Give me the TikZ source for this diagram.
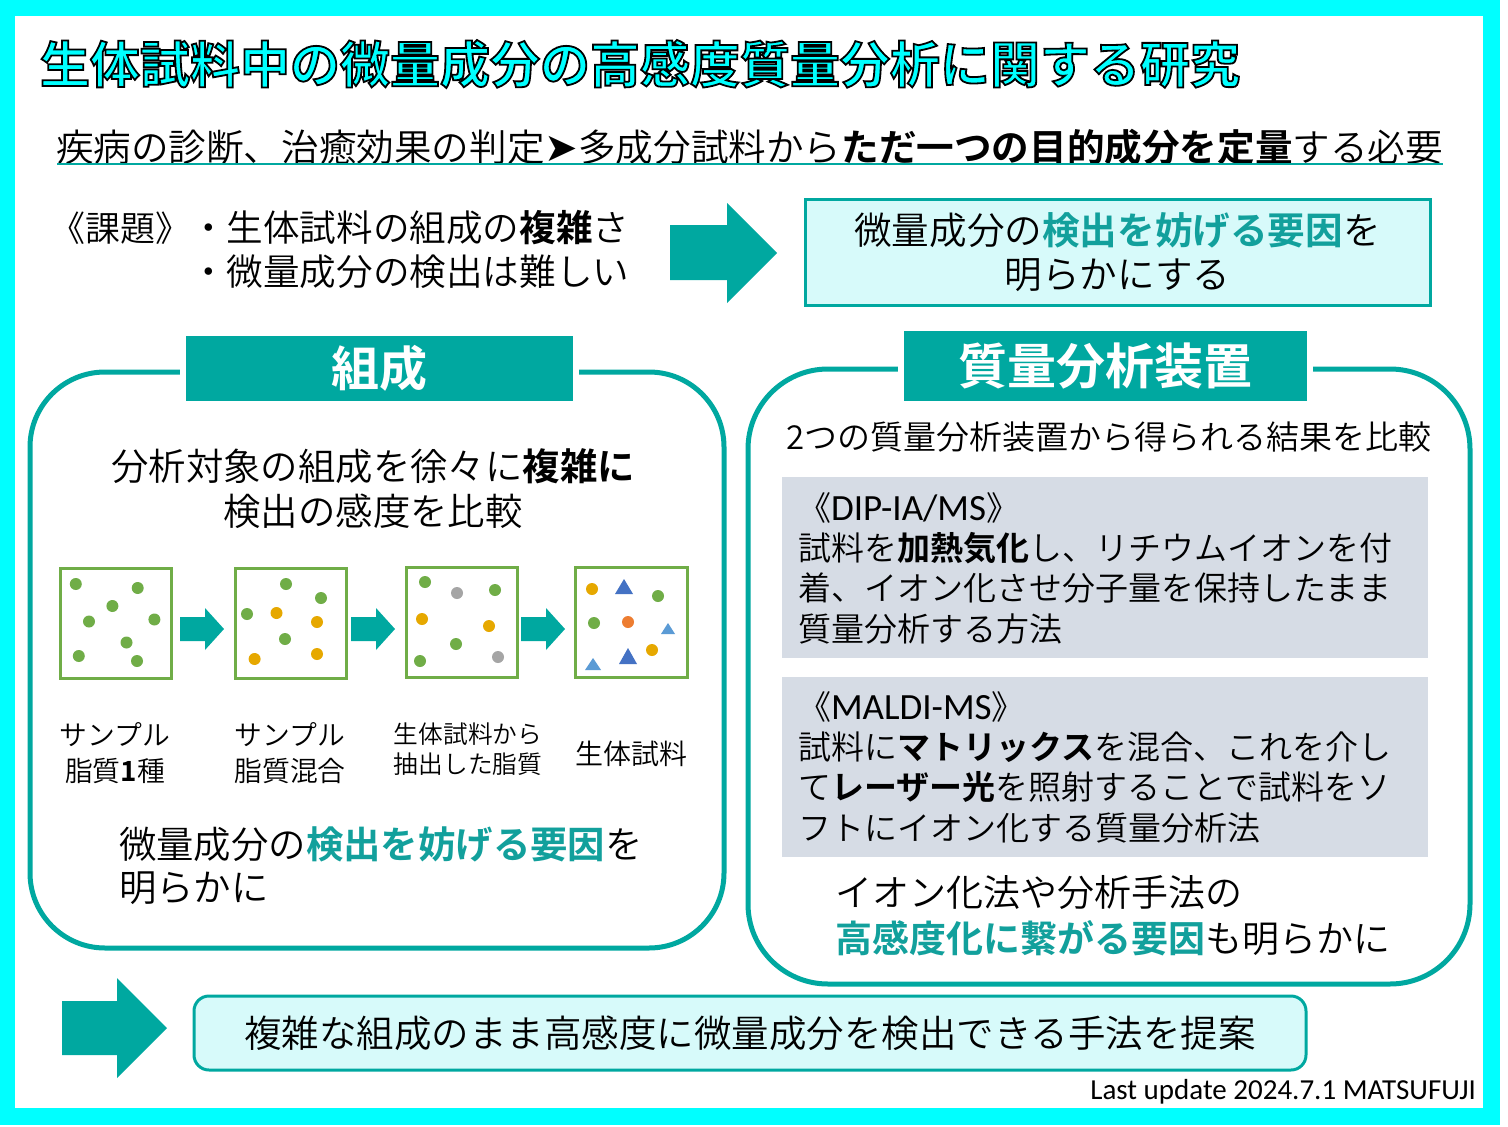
\documentclass[tikz,border=0pt]{standalone}
\usepackage{fontspec}
\setmainfont{Noto Sans CJK JP}[UprightFont={* DemiLight}, BoldFont={* Bold}]
\newfontfamily\dejavu{DejaVu Sans}
\newfontfamily\carlito{Carlito}
\definecolor{tealc}{RGB}{0,168,160}
\definecolor{tealt}{RGB}{18,160,156}
\definecolor{cyanf}{RGB}{0,255,255}
\definecolor{lcyan}{RGB}{215,250,250}
\definecolor{grayb}{RGB}{214,220,229}
\definecolor{dgreen}{RGB}{112,173,71}
\definecolor{dgold}{RGB}{230,168,0}
\definecolor{dgray}{RGB}{165,165,165}
\definecolor{dorange}{RGB}{237,125,49}
\definecolor{dblue}{RGB}{68,114,196}
\definecolor{lblue}{RGB}{91,155,213}
\newcommand\fsz[2]{\fontsize{#1}{#2}\selectfont}
\newcommand\hl[1]{\textbf{\color{tealt}#1}}
\newcommand\strokeon{\special{pdf:literal direct 2 Tr 1.8 w 0 0 0 RG}}
\newcommand\strokeoff{\special{pdf:literal direct 0 Tr}}
\begin{document}
\begin{tikzpicture}[x=1pt,y=-1pt,
  txt/.style={inner sep=0pt, outer sep=0pt},
  titlef/.style={txt, font=\fsz{50}{56}\bfseries, anchor=west},
  hdr/.style={fill=tealc, preaction={draw=white, line width=12pt}, text=white, inner sep=0pt},
  panel/.style={draw=tealc, line width=5pt},
  graybox/.style={fill=grayb},
  dotbox/.style={draw=dgreen, line width=3pt},
  sarrow/.pic={\fill[tealc] (0,-12) -- (25,-12) -- (25,-21) -- (44,0) -- (25,21) -- (25,12) -- (0,12) -- cycle;}
]
\useasboundingbox (0,0) rectangle (1508,1127);
% frame
\fill[white] (0,0) rectangle (1508,1127);
\fill[cyanf] (0,0) rectangle (1500,1125);
\fill[white] (15,16) rectangle (1483,1108);

% title with outline (fill + stroke text render mode)
\node[titlef, text=cyanf] (title) at (40,64) {\strokeon 生体試料中の微量成分の高感度質量分析に関する研究\strokeoff};

% subtitle
\node[txt, anchor=west, font=\fsz{37.6}{44}] (sub) at (56,147) {疾病の診断、治癒効果の判定{\dejavu\fsz{40}{44}➤}多成分試料から\textbf{ただ一つの目的成分を定量}する必要};
\coordinate (ulA) at (57,164);
\coordinate (ulB) at (1443,164);
\draw[tealc, line width=2pt] (ulA) -- (ulB);

% issues
\node[txt, anchor=west, font=\fsz{35}{44}] (kadai) at (50,228) {《課題》};
\node[txt, anchor=west, font=\fsz{36.6}{44}] (b1) at (190,228) {・生体試料の組成の\textbf{複雑}さ};
\node[txt, anchor=west, font=\fsz{36.6}{44}] (b2) at (190,272) {・微量成分の検出は難しい};

% big arrow 1
\fill[tealc] (670,225) -- (727,225) -- (727,203) -- (777,253) -- (727,303) -- (727,280) -- (670,280) -- cycle;

% goal box
\node[draw=tealc, line width=3pt, fill=lcyan, minimum width=625pt, minimum height=106pt, inner sep=0pt, align=center, font=\fsz{37.6}{44}] (goal) at (1117.5,252) {微量成分の\hl{検出を妨げる要因}を\\明らかにする};

% left panel
\draw[panel, rounded corners=75pt] (30,372) rectangle (724,948);
\node[hdr, minimum width=387pt, minimum height=65pt, font=\fsz{48}{56}\bfseries] (hdrL) at (379.5,368.5) {組成};
\node[txt, align=center, font=\fsz{37.4}{45}] (lt) at (373,489) {分析対象の組成を徐々に\textbf{複雑に}\\検出の感度を比較};

% dot boxes
\draw[dotbox] (60,568) rectangle (171,678);
\draw[dotbox] (235,568) rectangle (346,678);
\draw[dotbox] (406,567) rectangle (517,677);
\draw[dotbox] (575,567) rectangle (687,677);
\pic at (180,629) {sarrow};
\pic at (351,629) {sarrow};
\pic at (521,629) {sarrow};
% box1 dots
\foreach \p in {(75.8,584),(137.7,588),(112.4,606),(89,621.5),(154.4,619.5),(126.5,642.5),(78.8,656),(137,661)}
  \fill[dgreen] \p circle (6pt);
% box2 dots
\foreach \p in {(286,584),(321,598),(247,614),(285,639)}
  \fill[dgreen] \p circle (6pt);
\foreach \p in {(276.5,613),(317,622),(254.6,659),(317,654)}
  \fill[dgold] \p circle (6pt);
% box3 dots
\foreach \p in {(425,582),(495,590),(456,644),(420,661)}
  \fill[dgreen] \p circle (6pt);
\foreach \p in {(457,593),(498,657)}
  \fill[dgray] \p circle (6pt);
\foreach \p in {(422,619),(489,626)}
  \fill[dgold] \p circle (6pt);
% box4 shapes
\fill[dgold] (592,589) circle (6pt);
\fill[dgold] (652,650) circle (6pt);
\fill[dgreen] (658,596) circle (6pt);
\fill[dgreen] (594,623) circle (6pt);
\fill[dorange] (628,622) circle (6pt);
\fill[dblue] (624,579) -- (633,594) -- (615,594) -- cycle;
\fill[dblue] (628,648) -- (637,664) -- (619,664) -- cycle;
\fill[lblue] (668,623) -- (675,634) -- (661,634) -- cycle;
\fill[lblue] (593,658) -- (601,670) -- (585,670) -- cycle;

% labels
\node[txt, align=center, font=\fsz{27.8}{36}] (l1) at (115,753) {サンプル\\脂質\textbf{1}種};
\node[txt, align=center, font=\fsz{27.8}{36}] (l2) at (290,753) {サンプル\\脂質混合};
\node[txt, align=center, font=\fsz{24.7}{30}] (l3) at (468,749) {生体試料から\\抽出した脂質};
\node[txt, align=center, font=\fsz{28}{36}] (l4) at (631,754) {生体試料};

\node[txt, anchor=west, align=left, font=\fsz{37.4}{43}] (lb) at (119,866) {微量成分の\hl{検出を妨げる要因}を\\明らかに};

% right panel
\draw[panel, rounded corners=80pt] (748,369) rectangle (1470,984);
\node[hdr, minimum width=403pt, minimum height=70pt, font=\fsz{49}{56}\bfseries] (hdrR) at (1105.5,366) {質量分析装置};
\node[txt, font=\fsz{33}{40}] (rt) at (1109,437) {2つの質量分析装置から得られる結果を比較};

\fill[graybox] (782,477) rectangle (1428,658);
\node[txt, anchor=west, align=left, font=\fsz{33}{40.3}] (dip) at (798,568) {《{\carlito\fsz{37}{40.3}DIP-IA/MS}》\\試料を\textbf{加熱気化}し、リチウムイオンを付\\着、イオン化させ分子量を保持したまま\\質量分析する方法};

\fill[graybox] (782,677) rectangle (1428,857);
\node[txt, anchor=west, align=left, font=\fsz{33}{40.3}] (mal) at (798,767) {《{\carlito\fsz{37}{40.3}MALDI-MS}》\\試料に\textbf{マトリックス}を混合、これを介し\\て\textbf{レーザー光}を照射することで試料をソ\\フトにイオン化する質量分析法};

\node[txt, anchor=west, align=left, font=\fsz{37}{46}] (rb) at (835,916) {イオン化法や分析手法の\\\hl{高感度化に繋がる要因}も明らかに};

% bottom arrow
\fill[tealc] (62,1001) -- (117,1001) -- (117,978) -- (167,1028) -- (117,1078) -- (117,1055) -- (62,1055) -- cycle;
\node[draw=tealc, line width=3pt, fill=lcyan, rounded corners=15pt, minimum width=1112pt, minimum height=74pt, inner sep=0pt, font=\fsz{37.5}{44}] (concl) at (750,1033) {複雑な組成のまま高感度に微量成分を検出できる手法を提案};

\node[txt, anchor=east, font=\carlito\fsz{29}{30}] (upd) at (1476,1092) {Last update 2024.7.1 MATSUFUJI};
\end{tikzpicture}
\end{document}
